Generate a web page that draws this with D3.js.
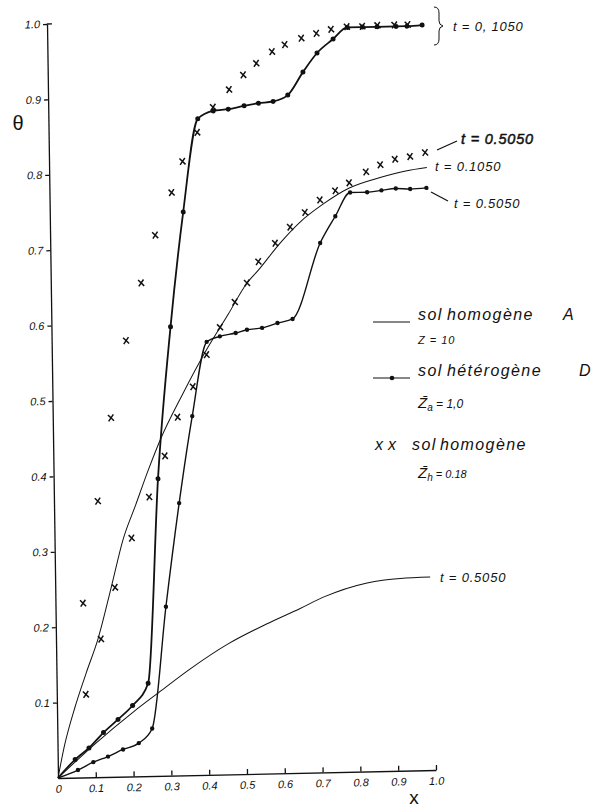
<!DOCTYPE html>
<html>
<head>
<meta charset="utf-8">
<script src="https://cdn.jsdelivr.net/npm/d3@7"></script>
<style>
  body { margin: 0; background: #fff; }
  text { font-family: "Liberation Sans", Arial, sans-serif; font-style: italic; fill: #111; }
</style>
</head>
<body>
<svg id="chart" width="600" height="809"></svg>
<script>
// ticks
var xTicks = [0, 0.1, 0.2, 0.3, 0.4, 0.5, 0.6, 0.7, 0.8, 0.9, 1.0];
var yTicks = [0.1, 0.2, 0.3, 0.4, 0.5, 0.6, 0.7, 0.8, 0.9, 1.0];

// sol homogene A, thin lines
var homA1050 = [[0,0],[0.019,0.044],[0.048,0.094],[0.079,0.139],[0.111,0.183],[0.149,0.253],[0.181,0.314],
  [0.216,0.36],[0.25,0.405],[0.283,0.445],[0.345,0.506],[0.405,0.56],[0.468,0.61],[0.519,0.651],[0.55,0.668],
  [0.608,0.703],[0.661,0.73],[0.722,0.753],[0.793,0.774],[0.875,0.787],[0.943,0.795],[0.999,0.799]];
var homA5050 = [[0,0],[0.101,0.045],[0.203,0.086],[0.271,0.111],[0.354,0.141],[0.455,0.173],[0.556,0.198],
  [0.647,0.218],[0.707,0.232],[0.825,0.25],[0.913,0.255],[0.992,0.256]];

// sol heterogene D, line with dots
var hetD1050 = [[0,0],[0.046,0.024],[0.083,0.039],[0.122,0.059],[0.161,0.076],[0.2,0.094],[0.242,0.123],
  [0.276,0.394],[0.315,0.595],[0.353,0.747],[0.395,0.87],[0.436,0.88],[0.476,0.882],[0.518,0.886],[0.556,0.889],
  [0.595,0.891],[0.634,0.899],[0.675,0.929],[0.713,0.954],[0.756,0.972],[0.794,0.987],[0.834,0.987],
  [0.873,0.987],[0.923,0.987],[0.952,0.987],[0.992,0.988]];
var hetD5050 = [[0,0],[0.053,0.010],[0.094,0.020],[0.133,0.027],[0.173,0.036],[0.215,0.044],[0.251,0.063],
  [0.292,0.224],[0.331,0.361],[0.369,0.476],[0.41,0.574],[0.445,0.581],[0.487,0.585],[0.517,0.589],[0.557,0.591],
  [0.598,0.597],[0.638,0.602],[0.714,0.702],[0.755,0.737],[0.795,0.768],[0.84,0.768],[0.878,0.77],
  [0.916,0.772],[0.954,0.771],[0.997,0.772]];

// sol homogene Zh = 0.18, crosses
var homZh1050 = [[0.073,0.231],[0.116,0.366],[0.154,0.476],[0.197,0.578],[0.239,0.654],[0.278,0.717],
  [0.323,0.773],[0.353,0.814],[0.393,0.852],[0.436,0.885],[0.479,0.908],[0.517,0.927],[0.552,0.942],
  [0.594,0.957],[0.628,0.966],[0.672,0.974],[0.712,0.98],[0.751,0.985],[0.793,0.988],[0.834,0.988],
  [0.874,0.989],[0.919,0.989],[0.954,0.989]];
var homZh5050 = [[0.077,0.110],[0.119,0.183],[0.158,0.251],[0.204,0.316],[0.252,0.370],[0.295,0.424],
  [0.33,0.475],[0.372,0.515],[0.409,0.557],[0.446,0.593],[0.486,0.626],[0.519,0.651],[0.55,0.679],
  [0.595,0.703],[0.635,0.724],[0.675,0.743],[0.715,0.759],[0.756,0.771],[0.793,0.781],[0.838,0.795],
  [0.876,0.804],[0.915,0.811],[0.955,0.814],[0.995,0.819]];

var svg = d3.select("#chart");
var W = 378, H = 754;

// the scan is slightly tilted, so the plot frame is skewed a little
var plot = svg.append("g").attr("transform", "matrix(1,-0.0212,0.0146,1,47,24)");

var x = d3.scaleLinear().domain([0, 1]).range([0, W]);
var y = d3.scaleLinear().domain([0, 1]).range([H, 0]);

var xAxis = plot.append("g")
  .attr("transform", "translate(0," + H + ")")
  .call(d3.axisBottom(x).tickValues(xTicks).tickSizeInner(-5).tickSizeOuter(0).tickPadding(7)
    .tickFormat(function(d) { return d == 0 ? "0" : d3.format(".1f")(d); }));
var yAxis = plot.append("g")
  .call(d3.axisLeft(y).tickValues(yTicks).tickSizeInner(4).tickSizeOuter(0).tickPadding(3)
    .tickFormat(d3.format(".1f")));
[xAxis, yAxis].forEach(function(a) {
  a.selectAll("path, line").attr("stroke", "#111").attr("stroke-width", 1.3);
  a.selectAll("text").style("font-size", "11px").style("font-family", "Liberation Sans, Arial, sans-serif")
    .style("font-style", "italic").attr("fill", "#333");
});
xAxis.selectAll(".tick").filter(function(d) { return d == 0; }).select("line").remove();
// little serif at the top of the y axis
plot.append("line").attr("x1", 0).attr("x2", 5).attr("y1", y(1)).attr("y2", y(1))
  .attr("stroke", "#111").attr("stroke-width", 1.3);

var line = d3.line().x(function(d) { return x(d[0]); }).y(function(d) { return y(d[1]); })
  .curve(d3.curveMonotoneX);

function drawLine(data, width) {
  plot.append("path").datum(data).attr("d", line)
    .attr("fill", "none").attr("stroke", "#111").attr("stroke-width", width);
}
function drawDots(data, r) {
  plot.append("g").selectAll("circle").data(data).join("circle")
    .attr("cx", function(d) { return x(d[0]); })
    .attr("cy", function(d) { return y(d[1]); })
    .attr("r", r).attr("fill", "#111");
}
function drawCrosses(data) {
  plot.append("g").selectAll("path").data(data).join("path")
    .attr("transform", function(d) { return "translate(" + x(d[0]) + "," + y(d[1]) + ")"; })
    .attr("d", "M-3,-3L3,3M2.4,-3.4L-2.4,3.4")
    .attr("stroke", "#111").attr("stroke-width", 1.5).attr("fill", "none");
}

drawLine(homA1050, 1);
drawLine(homA5050, 1);
drawLine(hetD5050, 1.4);
drawLine(hetD1050, 1.8);
drawDots(hetD5050.slice(1), 2.2);
drawDots(hetD1050.slice(1), 2.5);
drawCrosses(homZh1050);
drawCrosses(homZh5050);

// axis names
svg.append("text").attr("x", 18).attr("y", 130).attr("text-anchor", "middle")
  .style("font-size", "20px").style("font-style", "normal").text("θ");
svg.append("text").attr("x", 414).attr("y", 804).attr("text-anchor", "middle")
  .style("font-size", "19px").style("font-style", "normal").text("x");

// curve labels
function label(tx, ty, str, size, stroke) {
  var t = svg.append("text").attr("x", tx).attr("y", ty).style("font-size", size + "px")
    .style("letter-spacing", "0.8px").text(str);
  if (stroke) t.attr("stroke", "#111").attr("stroke-width", stroke);
}
svg.append("path").attr("d", "M434,7 q5,0 5,6 v8 q0,4 4,5 q-4,1 -4,5 v8 q0,6 -5,6")
  .attr("fill", "none").attr("stroke", "#111").attr("stroke-width", 1);
label(453, 31, "t = 0, 1050", 13);
svg.append("line").attr("x1", 437).attr("y1", 150).attr("x2", 457).attr("y2", 141)
  .attr("stroke", "#111").attr("stroke-width", 1.3);
label(461, 144, "t = 0.5050", 14.5, 0.5);
label(435, 171, "t = 0.1050", 13);
svg.append("line").attr("x1", 431).attr("y1", 192).attr("x2", 448).attr("y2", 201)
  .attr("stroke", "#111").attr("stroke-width", 1.2);
label(454, 208, "t = 0.5050", 13);
label(440, 582, "t = 0.5050", 13);

// legend
var lg = svg.append("g");
function words(ty, list) {
  var t = lg.append("text").attr("y", ty).style("font-size", "16px").style("letter-spacing", "1.4px");
  list.forEach(function(w) { t.append("tspan").attr("x", w[0]).text(w[1]); });
}
lg.append("line").attr("x1", 373).attr("x2", 410).attr("y1", 322).attr("y2", 322)
  .attr("stroke", "#111").attr("stroke-width", 1);
words(320, [[418, "sol"], [447, "homogène"], [563, "A"]]);
lg.append("text").attr("x", 418).attr("y", 344).style("font-size", "11px").style("letter-spacing", "1px").text("Z = 10");

lg.append("line").attr("x1", 373).attr("x2", 410).attr("y1", 378).attr("y2", 378)
  .attr("stroke", "#111").attr("stroke-width", 1.2);
lg.append("circle").attr("cx", 392).attr("cy", 378).attr("r", 2.3).attr("fill", "#111");
words(376, [[418, "sol"], [447, "hétérogène"], [579, "D"]]);
var za = lg.append("text").attr("x", 418).attr("y", 408).style("font-size", "15px");
za.append("tspan").text("Z̄");
za.append("tspan").attr("dy", 3).style("font-size", "10px").text("a");
za.append("tspan").attr("dy", -3).style("font-size", "12px").text(" = 1,0");

words(450, [[375, "x"], [388, "x"], [412, "sol"], [440, "homogène"]]);
var zh = lg.append("text").attr("x", 418).attr("y", 478).style("font-size", "15px");
zh.append("tspan").text("Z̄");
zh.append("tspan").attr("dy", 3).style("font-size", "10px").text("h");
zh.append("tspan").attr("dy", -3).style("font-size", "11px").text(" = 0.18");
</script>
</body>
</html>
